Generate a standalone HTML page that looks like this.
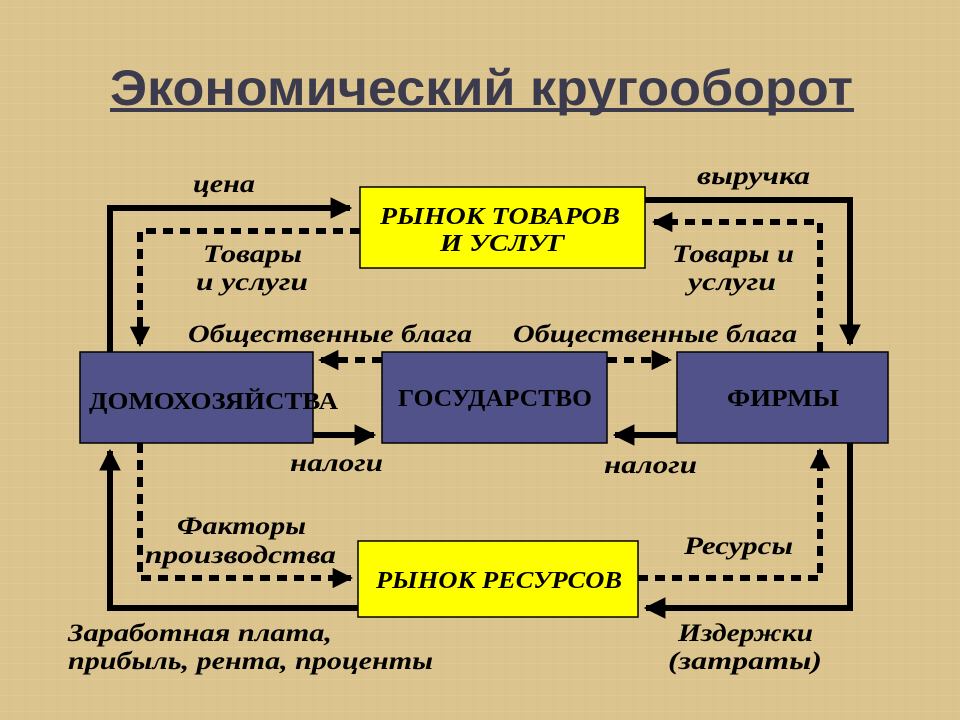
<!DOCTYPE html>
<html><head><meta charset="utf-8"><style>
html,body{margin:0;padding:0;width:960px;height:720px;overflow:hidden;background:#dcc48e;}
svg{display:block}
</style></head><body>
<svg width="960" height="720" viewBox="0 0 960 720" xmlns="http://www.w3.org/2000/svg">
<defs>
<pattern id="p" width="16" height="16" patternUnits="userSpaceOnUse">
<rect width="16" height="16" fill="#dcc48e"/>
<rect x="0" y="7" width="16" height="1" fill="#e3cd9a" opacity="0.5"/>
<rect x="9" y="0" width="1" height="16" fill="#d2b984" opacity="0.4"/>
</pattern>
<marker id="a" viewBox="0 0 10 10" refX="9" refY="5" markerWidth="3.6" markerHeight="3.6" orient="auto" markerUnits="strokeWidth">
<path d="M0,0 L10,5 L0,10 z" fill="#000"/></marker>
<marker id="b" viewBox="0 0 10 10" refX="9" refY="5" markerWidth="3.4" markerHeight="3.4" orient="auto" markerUnits="strokeWidth">
<path d="M0,0 L10,5 L0,10 z" fill="#000"/></marker>
</defs>
<rect width="960" height="720" fill="url(#p)"/>

<text x="110" y="105" font-family="Liberation Sans, sans-serif" font-weight="bold" font-size="50" fill="#3b3b4d" textLength="743" lengthAdjust="spacingAndGlyphs">Экономический кругооборот</text>
<rect x="110" y="108" width="744" height="4" fill="#3b3b4d"/>

<g fill="none" stroke="#000">
<g stroke-width="6">
<path d="M110,352 L110,208 L350,208" marker-end="url(#a)"/>
<path d="M645,200 L850,200 L850,344" marker-end="url(#a)"/>
<path d="M313,435 L374,435" marker-end="url(#a)"/>
<path d="M677,435 L615,435" marker-end="url(#a)"/>
<path d="M358,608 L110,608 L110,451" marker-end="url(#a)"/>
<path d="M850,443 L850,608 L646,608" marker-end="url(#a)"/>
</g>
<g stroke-width="6" stroke-dasharray="10,7">
<path d="M360,231 L140,231 L140,345" marker-end="url(#b)"/>
<path d="M820,352 L820,222 L654,222" marker-end="url(#b)"/>
<path d="M382,360 L320,360" marker-end="url(#b)"/>
<path d="M607,360 L670,360" marker-end="url(#b)"/>
<path d="M140,443 L140,578 L351,578" marker-end="url(#b)"/>
<path d="M638,578 L820,578 L820,450" marker-end="url(#b)"/>
</g>
</g>

<rect x="360" y="187" width="285" height="81" fill="#ffff00" stroke="#000" stroke-width="1.5"/>
<rect x="358" y="541" width="280" height="76" fill="#ffff00" stroke="#000" stroke-width="1.5"/>
<rect x="80" y="352" width="233" height="91" fill="#52528a" stroke="#000" stroke-width="1.5"/>
<rect x="382" y="352" width="225" height="91" fill="#52528a" stroke="#000" stroke-width="1.5"/>
<rect x="677" y="352" width="211" height="91" fill="#52528a" stroke="#000" stroke-width="1.5"/>

<g font-family="Liberation Serif, serif" font-weight="bold" fill="#000">
<text x="380" y="224" font-size="24" font-style="italic" textLength="240" lengthAdjust="spacingAndGlyphs">РЫНОК ТОВАРОВ</text>
<text x="440" y="251" font-size="24" font-style="italic" textLength="125" lengthAdjust="spacingAndGlyphs">И УСЛУГ</text>
<text x="376" y="588" font-size="24" font-style="italic" textLength="246" lengthAdjust="spacingAndGlyphs">РЫНОК РЕСУРСОВ</text>
<text x="89" y="409" font-size="24" textLength="249" lengthAdjust="spacingAndGlyphs">ДОМОХОЗЯЙСТВА</text>
<text x="398" y="406" font-size="24" textLength="194" lengthAdjust="spacingAndGlyphs">ГОСУДАРСТВО</text>
<text x="727" y="406" font-size="24" textLength="112" lengthAdjust="spacingAndGlyphs">ФИРМЫ</text>
</g>

<g font-family="Liberation Serif, serif" font-weight="bold" font-style="italic" font-size="25" fill="#000">
<text x="193" y="192" textLength="62" lengthAdjust="spacingAndGlyphs">цена</text>
<text x="697" y="184" textLength="113" lengthAdjust="spacingAndGlyphs">выручка</text>
<text x="203" y="262" textLength="99" lengthAdjust="spacingAndGlyphs">Товары</text>
<text x="196" y="290" textLength="112" lengthAdjust="spacingAndGlyphs">и услуги</text>
<text x="672" y="262" textLength="122" lengthAdjust="spacingAndGlyphs">Товары и</text>
<text x="688" y="290" textLength="88" lengthAdjust="spacingAndGlyphs">услуги</text>
<text x="188" y="342" textLength="284" lengthAdjust="spacingAndGlyphs">Общественные блага</text>
<text x="513" y="342" textLength="284" lengthAdjust="spacingAndGlyphs">Общественные блага</text>
<text x="290" y="471" textLength="93" lengthAdjust="spacingAndGlyphs">налоги</text>
<text x="604" y="473" textLength="93" lengthAdjust="spacingAndGlyphs">налоги</text>
<text x="177" y="534" textLength="129" lengthAdjust="spacingAndGlyphs">Факторы</text>
<text x="145" y="563" textLength="191" lengthAdjust="spacingAndGlyphs">производства</text>
<text x="684" y="554" textLength="109" lengthAdjust="spacingAndGlyphs">Ресурсы</text>
<text x="68" y="641" textLength="264" lengthAdjust="spacingAndGlyphs">Заработная плата,</text>
<text x="68" y="669" textLength="365" lengthAdjust="spacingAndGlyphs">прибыль, рента, проценты</text>
<text x="678" y="641" textLength="135" lengthAdjust="spacingAndGlyphs">Издержки</text>
<text x="668" y="669" textLength="154" lengthAdjust="spacingAndGlyphs">(затраты)</text>
</g>
</svg>
</body></html>
